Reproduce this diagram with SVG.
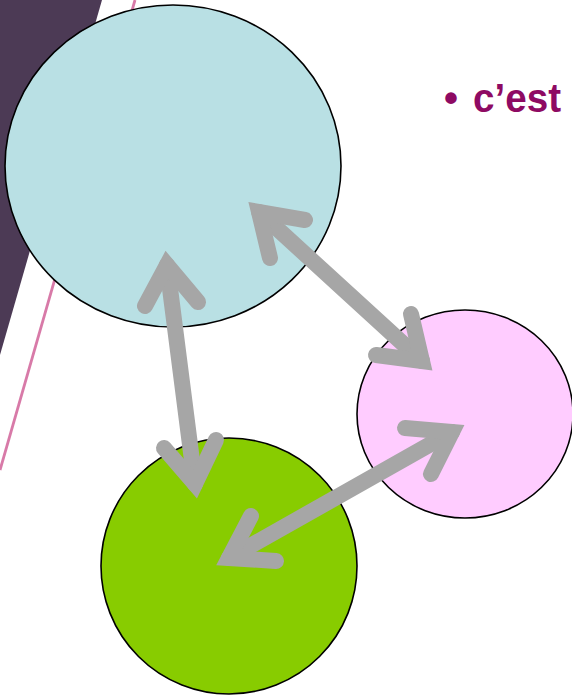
<svg xmlns="http://www.w3.org/2000/svg" width="572" height="695" viewBox="0 0 572 695">
<style>
.node{stroke:#000;stroke-width:1.6}
.arr{fill:none;stroke:#a6a6a6;stroke-width:16;stroke-linecap:round;stroke-linejoin:miter;stroke-miterlimit:10}
.txt{font-family:"Liberation Sans",Arial,sans-serif;font-weight:bold;fill:#8e0a63}
</style>
<rect width="572" height="695" fill="#fff"/>
<g id="background">
<polygon points="0,0 102,0 0,355" fill="#4c3a55"/>
<line x1="135" y1="0" x2="0" y2="470" stroke="#d87aa8" stroke-width="2.8"/>
</g>
<g id="node-blue"><ellipse class="node" cx="173" cy="166" rx="168" ry="161" fill="#b9e0e4"/></g>
<g id="node-pink"><ellipse class="node" cx="465" cy="414" rx="108" ry="104" fill="#ffccff"/></g>
<g id="node-green"><ellipse class="node" cx="229" cy="566" rx="128" ry="128" fill="#88cc00"/></g>
<g id="connectors">
<g id="blue-green">
<line class="arr" x1="167" y1="265" x2="195" y2="484"/>
<polyline class="arr" points="145,306 167,265 198,302"/>
<polyline class="arr" points="164,448 195,484 216,440"/>
</g>
<g id="blue-pink">
<line class="arr" x1="259" y1="212" x2="422" y2="361"/>
<polyline class="arr" points="305,220 259,212 270,258"/>
<polyline class="arr" points="411,314 422,361 376,355"/>
</g>
<g id="pink-green">
<line class="arr" x1="452" y1="432" x2="229" y2="558"/>
<polyline class="arr" points="405,428 452,432 431,474"/>
<polyline class="arr" points="251,516 229,558 276,561"/>
</g>
</g>
<g id="label">
<text class="txt" x="444" y="112" font-size="40">•</text>
<text class="txt" x="473" y="112" font-size="41" textLength="88" lengthAdjust="spacingAndGlyphs">c’est</text>
</g>
</svg>
